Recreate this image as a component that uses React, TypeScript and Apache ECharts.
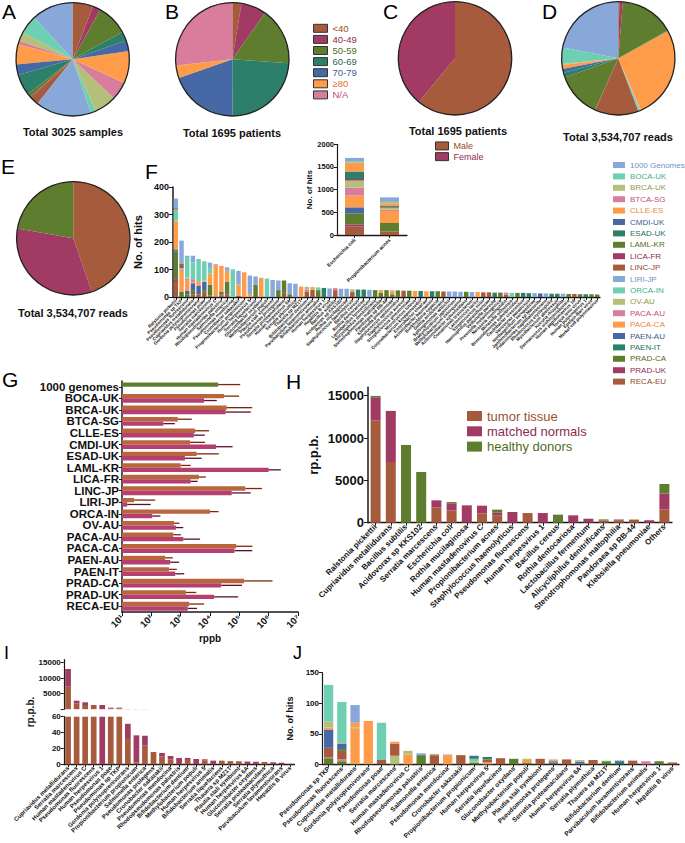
import React, { useEffect, useRef } from "react";
import * as echarts from "echarts";

const FONT = '"Liberation Sans", Arial, Helvetica, sans-serif';
const INK = "#1a1a1a";

// ---------- projects ----------
const projects = ["1000 Genomes","BOCA-UK","BRCA-UK","BTCA-SG","CLLE-ES","CMDI-UK","ESAD-UK","LAML-KR","LICA-FR","LINC-JP","LIRI-JP","ORCA-IN","OV-AU","PACA-AU","PACA-CA","PAEN-AU","PAEN-IT","PRAD-CA","PRAD-UK","RECA-EU"];
const projectColors = ["#87a8d8","#6fcfb2","#b4bf7a","#d97d9d","#ff9c4a","#4669a5","#2c806a","#5e7d2e","#a13b63","#a65b3d","#87a8d8","#6fcfb2","#b4bf7a","#d97d9d","#ff9c4a","#4669a5","#2c806a","#5e7d2e","#a13b63","#a65b3d"];
const projectTextColors = ["#6f8fc4","#3fae8c","#8d9a4c","#c24f7b","#ef8442","#3c5b93","#266f5c","#4f6c25","#8d2c52","#8e4a2e","#6f8fc4","#3fae8c","#8d9a4c","#c24f7b","#ef8442","#3c5b93","#266f5c","#4f6c25","#8d2c52","#8e4a2e"];

// ---------- A: samples per project ----------
const samplesPerProject = [360,160,76,30,175,91,182,30,9,76,480,45,191,157,278,91,79,272,67,176];
// ---------- B: age ----------
const ageGroups = ["<40","40-49","50-59","60-69","70-79","≥80","N/A"];
const agePatients = [44,122,276,405,334,61,453];
const ageColors = ["#a65b3d","#a13b63","#5e7d2e","#2c806a","#4669a5","#ff9c4a","#d97d9d"];
const ageTextColors = ["#a04a28","#8d2c52","#4f6c25","#1f6b55","#3c5b93","#e07030","#c04a70"];
// ---------- C: sex ----------
const sexGroups = ["Male","Female"];
const sexPatients = [1034,661];
const sexColors = ["#a65b3d","#a13b63"];
const sexTextColors = ["#9a4a2a","#8d2c52"];
// ---------- D: reads per project ----------
const readsPerProject = [784700,166100,7100,3500,38900,38900,49500,456000,3500,445400,3500,17700,3500,3500,943800,3500,3500,555000,35300,10600];
// ---------- E: reads per source ----------
const sourceGroups = ["tumor tissue","matched normals","healthy donors"];
const sourceReads = [1580000,1170000,784700];
const sourceColors = ["#a65b3d","#a13b63","#5e7d2e"];
const sourceTextColors = ["#9c4f30","#8d2c52","#4f6c25"];

// ---------- F: hits per species (stacked by project) ----------
const fSpecies = ["Ralstonia pickettii","Pseudomonas sp TKP","Pseudomonas fluorescens","Cupriavidus metallidurans","Gordonia polyisoprenivorans","Pseudomonas poae","Serratia marcescens","Human mastadenovirus C","Rhodopseudomonas palustris","Salmonella enterica","Pseudomonas mendocina","Cronobacter sakazakii","Propionibacterium propionicum","Human herpesvirus 5","Serratia liquefaciens","Gluconobacter oxydans","Methylobacterium populi","Plautia stali symbiont","Pseudomonas protegens","Serratia proteamaculans","Human herpesvirus 6A","Serratia plymuthica","Thauera sp MZ1T","Bifidobacterium dentium","Parvibaculum lavamentivorans","Bifidobacterium animalis","Human herpesvirus 1","Hepatitis B virus","Bacillus subtilis","Acidovorax sp KKS102","Rothia mucilaginosa","Staphylococcus haemolyticus","Bacillus cereus","Rothia dentocariosa","Lactobacillus fermentum","Alicycliphilus denitrificans","Stenotrophomonas maltophilia","Pandoraea sp RB-44","Klebsiella pneumoniae","Staphylococcus epidermidis","Staphylococcus aureus","Streptococcus pneumoniae","Micrococcus luteus","Corynebacterium kroppenstedtii","Enterobacter cloacae","Acinetobacter baumannii","Burkholderia cepacia","Delftia acidovorans","Sphingomonas wittichii","Bradyrhizobium japonicum","Methylobacterium extorquens","Achromobacter xylosoxidans","Comamonas testosteroni","Lactococcus lactis","Streptococcus mitis","Haemophilus parainfluenzae","Veillonella parvula","Prevotella melaninogenica","Neisseria meningitidis","Moraxella osloensis","Brevundimonas subvibrioides","Caulobacter crescentus","Variovorax paradoxus","Herbaspirillum seropedicae","Janthinobacterium sp Marseille","Polaromonas naphthalenivorans","Rhodococcus erythropolis","Mycobacterium abscessus","Kocuria rhizophila","Dermacoccus nishinomiyaensis","Human papillomavirus 16","Torque teno virus","Human polyomavirus 1","Epstein-Barr virus","Merkel cell polyomavirus"];
const fRECA = [55,0,0,10,10,15,5,0,5,10,0,5,0,0,0,0,0,0,0,15,0,0,0,20,26,
  0,0,0,25,0,0,18,0,0,0,0,0,0,0,0,23,0,0,0,0,0,0,20,0,0,
  0,0,0,0,17,17,0,0,8,0,0,0,0,0,0,0,0,0,0,0,11,0,0,0,0];
const fPRADUK = [10,0,0,0,0,0,0,0,5,0,0,0,0,0,0,0,0,0,0,0,0,0,0,0,0,
  0,0,0,0,0,0,0,0,0,0,0,0,0,0,0,0,0,0,0,0,0,0,0,0,0,
  0,0,0,0,0,0,0,0,0,0,0,0,0,0,0,0,0,0,0,0,0,0,0,0,0];
const fPRADCA = [100,20,10,15,0,10,40,2,10,45,0,0,0,0,45,0,0,0,25,45,10,0,0,0,0,
  25,0,0,0,0,0,0,0,0,0,25,15,25,10,24,0,23,0,0,0,0,21,0,0,0,
  0,19,0,0,0,0,0,16,0,0,15,0,0,0,0,0,0,0,0,11,0,10,0,10,9];
const fPAENIT = [0,0,0,0,0,0,0,0,0,0,0,0,0,0,0,0,0,0,0,0,0,0,0,0,0,
  0,33,0,0,0,0,0,27,27,0,0,0,0,0,0,0,0,0,22,0,21,0,0,0,0,
  0,0,0,0,0,0,16,0,0,0,0,15,14,0,0,0,12,12,0,0,0,0,10,0,0];
const fPAENAU = [8,0,12,25,30,30,0,0,0,0,0,0,0,0,0,0,0,0,0,0,0,0,0,0,0,
  0,0,0,0,0,0,0,0,0,0,0,0,0,0,0,0,0,0,0,0,0,0,0,0,0,
  0,0,0,0,0,0,0,0,0,0,0,0,0,0,13,0,0,0,0,0,0,0,0,0,0];
const fPACACA = [100,75,40,5,15,0,40,116,93,40,0,40,90,10,0,70,0,0,0,0,0,0,38,0,10,
  0,0,0,0,0,0,0,0,0,0,0,10,0,14,0,0,0,22,0,21,0,0,0,0,0,
  0,0,0,18,0,0,0,0,0,0,0,0,0,0,0,0,0,0,0,0,0,0,0,0,0];
const fPACAAU = [0,5,5,10,0,0,0,0,0,0,0,0,0,0,0,0,0,0,0,0,0,0,0,8,0,
  0,0,0,7,0,0,0,0,0,0,0,0,0,0,0,0,0,0,0,0,0,0,0,0,0,
  0,0,0,0,0,0,0,0,8,0,0,0,0,0,0,0,0,0,0,0,0,0,0,0,0];
const fOVAU = [5,0,3,0,0,5,0,0,0,0,0,0,0,0,0,0,0,0,0,0,0,0,0,9,0,
  0,0,0,0,0,0,10,0,0,0,0,0,0,0,0,0,0,0,0,0,0,0,0,0,0,
  0,0,0,0,0,0,0,0,0,0,0,0,0,0,0,0,0,0,0,0,0,0,0,0,0];
const fORCAIN = [40,5,75,60,83,70,20,0,0,0,101,0,0,0,0,0,67,0,0,0,0,0,0,0,0,
  10,0,0,0,0,0,0,0,0,0,0,0,0,0,0,0,0,0,0,0,0,0,0,0,0,
  0,0,0,0,0,0,0,0,0,15,0,0,0,0,0,0,0,0,0,0,0,0,0,0,0];
const fLINCJP = [5,15,0,0,0,0,0,0,0,0,0,0,0,0,0,0,0,0,0,0,0,0,0,0,0,
  0,0,0,0,0,0,0,0,0,0,0,0,0,0,0,0,0,0,0,0,0,0,0,0,0,
  0,0,0,0,0,0,0,0,0,0,0,0,0,0,0,0,0,0,0,0,0,0,0,0,0];
const f1000G = [35,85,5,25,0,0,20,2,0,13,0,50,0,68,30,0,0,62,35,0,40,48,0,0,0,
  0,0,31,0,30,30,0,0,0,26,0,0,0,0,0,0,0,0,0,0,0,0,0,20,20,
  19,0,18,0,0,0,0,0,0,0,0,0,0,14,0,13,0,0,12,0,0,0,0,0,0];

// ---------- F inset ----------
const insetSpecies = ["Escherichia coli","Propionibacterium acnes"];
const insetEcoli = [70,30,0,0,200,0,165,0,35,0,0,0,156,176,258,132,0,243,51,184];
const insetPacnes = [100,0,30,0,50,0,30,0,0,20,0,0,40,30,265,0,0,185,0,80];

// ---------- G: rppb per project ----------
const gRows = ["1000 genomes","BOCA-UK","BRCA-UK","BTCA-SG","CLLE-ES","CMDI-UK","ESAD-UK","LAML-KR","LICA-FR","LINC-JP","LIRI-JP","ORCA-IN","OV-AU","PACA-AU","PACA-CA","PAEN-AU","PAEN-IT","PRAD-CA","PRAD-UK","RECA-EU"];
const gTumor = [19000,30000,37000,800,3100,2100,3500,1000,4200,160000,26,10000,590,560,78000,295,400,145000,1500,1950];
const gTumorErr = [107000,98000,275000,2400,9300,6800,20000,2200,7200,590000,135,19500,910,1020,280000,540,740,1350000,3400,6300];
const gNormal = [null,6300,34000,257,2800,16000,1400,1000000,2200,55000,15,107,690,1230,68000,440,650,24000,13800,1740];
const gNormalErr = [null,17000,245000,630,6600,59000,5200,2600000,3800,245000,95,204,1230,4600,275000,890,1320,123000,91000,3600];
const gTickLabels = ["10¹","10²","10³","10⁴","10⁵","10⁶","10⁷"];

// ---------- H ----------
const hSpecies = ["Ralstonia pickettii","Cupriavidus metallidurans","Bacillus subtilis","Acidovorax sp KKS102","Serratia marcescens","Escherichia coli","Rothia mucilaginosa","Human mastadenovirus C","Propionibacterium acnes","Staphylococcus haemolyticus","Pseudomonas fluorescens","Human herpesvirus 1","Bacillus cereus","Rothia dentocariosa","Lactobacillus fermentum","Alicycliphilus denitrificans","Stenotrophomonas maltophilia","Pandoraea sp RB-44","Klebsiella pneumoniae","Others"];
const hTumor = [12100,7170,0,0,1810,1460,0,1100,830,0,1140,0,0,0,0,220,300,370,0,1580];
const hMatched = [2710,6030,0,0,830,830,2050,910,350,1260,0,1140,0,870,470,60,80,0,290,1850];
const hHealthy = [160,0,9180,5990,0,150,0,0,360,0,0,0,950,0,0,110,0,0,0,1140];

// ---------- I ----------
const iSpecies = ["Cupriavidus metallidurans","Serratia marcescens","Human mastadenovirus C","Pseudomonas fluorescens","Human herpesvirus 1","Pseudomonas poae","Pseudomonas sp TKP","Gordonia polyisoprenivorans","Propionibacterium propionicum","Salmonella enterica","Pseudomonas protegens","Cronobacter sakazakii","Pseudomonas mendocina","Rhodopseudomonas palustris","Bifidobacterium dentium","Methylobacterium populi","Human herpesvirus 5","Bifidobacterium animalis","Serratia liquefaciens","Thauera sp MZ1T","Plautia stali symbiont","Human herpesvirus 6A","Gluconobacter oxydans","Serratia proteamaculans","Serratia plymuthica","Parvibaculum lavamentivorans","Hepatitis B virus"];
const iTumor = [7260,1900,1350,1350,0,300,300,32,2.5,23.5,15.5,9.7,6.3,0,5.5,0,5,0,4.6,4,3.8,0,0,3,0,0,0.5];
const iNormal = [5710,840,870,0,1350,200,200,19,34,12.5,0,4.6,4.2,8,2.5,6.7,1.3,4.6,0,0,0,3.5,3.2,0,2.5,2,0];

// ---------- J ----------
const jSpecies = ["Pseudomonas sp TKP","Pseudomonas fluorescens","Cupriavidus metallidurans","Gordonia polyisoprenivorans","Pseudomonas poae","Serratia marcescens","Human mastadenovirus C","Rhodopseudomonas palustris","Salmonella enterica","Pseudomonas mendocina","Cronobacter sakazakii","Propionibacterium propionicum","Human herpesvirus 5","Serratia liquefaciens","Gluconobacter oxydans","Methylobacterium populi","Plautia stali symbiont","Pseudomonas protegens","Serratia proteamaculans","Human herpesvirus 6A","Serratia plymuthica","Thauera sp MZ1T","Bifidobacterium dentium","Parvibaculum lavamentivorans","Bifidobacterium animalis","Human herpesvirus 1","Hepatitis B virus"];
const jRECA = [0,0,0,0,7,0,0,0,0,0,15,0,0,10,0,0,9,0,8,0,7,0,0,6,0,0,3];
const jPRADUK = [0,0,0,0,0,0,0,0,0,0,0,0,0,0,0,0,0,0,0,1,0,0,0,0,0,0,0];
const jPRADCA = [10,5,1,1,0,0,0,15,0,0,0,3,0,0,9,2,0,0,0,0,0,5,0,0,0,5,0];
const jPAENIT = [0,0,0,0,0,0,0,0,0,0,0,0,0,0,0,0,0,0,0,0,0,0,4,0,0,0,0];
const jPAENAU = [0,0,0,0,0,0,0,0,0,0,0,0,0,0,0,0,0,3,0,3,0,0,0,0,0,0,0];
const jPACACA = [0,0,57,70,0,0,16,0,0,15,0,0,3,0,0,5,0,0,0,0,0,0,0,0,0,0,0];
const jPACAAU = [1,3,0,0,0,0,0,0,0,1,0,0,0,0,0,0,0,0,0,1,0,0,0,0,5,0,0];
const jOVAU = [0,0,2,0,0,14,0,0,0,0,0,2,0,0,0,2,0,0,0,2,0,0,0,0,0,0,0];
const jORCAIN = [0,0,0,0,61,0,0,0,0,0,0,4,0,0,0,0,0,0,0,0,0,1,0,0,0,0,0];
const jLINCJP = [16,14,0,0,0,20,0,0,15,0,0,0,5,0,0,0,0,2,0,0,0,0,0,0,0,0,0];
const jLAMLKR = [0,3,0,0,0,0,0,0,0,0,0,0,0,0,0,0,0,0,0,0,0,0,0,0,0,0,0];
const jESADUK = [0,0,0,0,0,0,0,0,0,0,0,3,4,0,0,0,0,0,0,0,0,0,0,0,0,0,0];
const jCMDIUK = [30,9,0,0,0,0,0,0,0,0,0,2,0,0,0,0,0,0,0,0,0,0,2,0,0,0,0];
const jCLLEES = [3,1,8,0,0,3,0,0,0,0,0,0,0,0,0,0,0,0,0,0,0,0,0,0,0,0,0];
const jBRCAUK = [10,0,0,0,0,0,6,0,2,0,0,0,0,0,0,0,0,3,0,0,0,0,0,0,0,0,0];
const jBOCAUK = [60,67,0,0,0,0,0,0,0,0,0,0,0,0,0,0,0,0,0,0,0,0,0,0,0,0,0];
const j1000G = [0,0,29,0,0,0,0,3,0,0,0,0,0,0,0,0,0,0,0,0,0,0,0,0,0,0,0];

// ---------- helpers ----------
const fByProject: Record<string, number[]> = {
  "RECA-EU": fRECA, "PRAD-UK": fPRADUK, "PRAD-CA": fPRADCA, "PAEN-IT": fPAENIT, "PAEN-AU": fPAENAU,
  "PACA-CA": fPACACA, "PACA-AU": fPACAAU, "OV-AU": fOVAU, "ORCA-IN": fORCAIN, "LINC-JP": fLINCJP, "1000 Genomes": f1000G,
};
const jByProject: Record<string, number[]> = {
  "RECA-EU": jRECA, "PRAD-UK": jPRADUK, "PRAD-CA": jPRADCA, "PAEN-IT": jPAENIT, "PAEN-AU": jPAENAU,
  "PACA-CA": jPACACA, "PACA-AU": jPACAAU, "OV-AU": jOVAU, "ORCA-IN": jORCAIN, "LINC-JP": jLINCJP,
  "LAML-KR": jLAMLKR, "ESAD-UK": jESADUK, "CMDI-UK": jCMDIUK, "CLLE-ES": jCLLEES, "BRCA-UK": jBRCAUK,
  "BOCA-UK": jBOCAUK, "1000 Genomes": j1000G,
};
const nz = (a: (number | null)[]) => a.map((v) => (v === 0 ? null : v));
const colorOf = (p: string) => projectColors[projects.indexOf(p)];
const stackOrder = [...projects].reverse();
const plain = (v: number) => String(v);

function buildOption() {
  const axisLine = (w = 1.3) => ({ show: true, lineStyle: { color: INK, width: w } });
  const tick = (len = 3, align = true) => ({ show: true, length: len, alignWithLabel: align, lineStyle: { color: INK, width: 1 } });
  const lab = (size: number, extra: any = {}) => ({ fontSize: size, fontWeight: "bold", color: "#111", fontFamily: FONT, ...extra });
  const noSplit = { show: false };

  const grids = [
    { left: 173, top: 187, width: 427, height: 110 }, // F main
    { left: 337, top: 144.3, width: 70, height: 90.7 }, // F inset
    { left: 122, top: 381, width: 176, height: 231 }, // G
    { left: 368, top: 387.2, width: 304, height: 135.5 }, // H
    { left: 63.8, top: 659.6, width: 230.6, height: 49.6 }, // I upper
    { left: 63.8, top: 716.7, width: 230.6, height: 47.6 }, // I lower
    { left: 322, top: 672.7, width: 357, height: 91.6 }, // J
  ].map((g) => ({ ...g, containLabel: false, outerBoundsMode: "none" }));

  const catX = (gi: number, data: string[], size: number, extra: any = {}) => ({
    type: "category", gridIndex: gi, data, axisLine: axisLine(), axisTick: tick(3),
    axisLabel: { interval: 0, rotate: 45, margin: 3, ...lab(size) }, splitLine: noSplit, ...extra,
  });

  const xAxis: any[] = [
    catX(0, fSpecies, 4.5),
    catX(1, insetSpecies, 5, { axisLabel: { interval: 0, rotate: 45, margin: 4, ...lab(5) } }),
    {
      type: "log", gridIndex: 2, min: 10, max: 10000000, logBase: 10, splitNumber: 6,
      axisLine: axisLine(1.5), axisTick: { show: true, length: 4, lineStyle: { color: INK } },
      axisLabel: { rotate: 45, margin: 4, formatter: (v: number) => gTickLabels[Math.round(Math.log10(v)) - 1] ?? "", ...lab(9.5) },
      splitLine: noSplit, name: "rppb", nameLocation: "middle", nameGap: 20, nameTextStyle: lab(10),
    },
    catX(3, hSpecies, 8),
    { type: "category", gridIndex: 4, data: iSpecies, axisLine: { show: false }, axisTick: { show: false }, axisLabel: { show: false }, splitLine: noSplit },
    catX(5, iSpecies, 6),
    catX(6, jSpecies, 6.5),
  ];

  const yAxis: any[] = [
    { type: "value", gridIndex: 0, min: 0, max: 400, interval: 100, axisLine: axisLine(1.5), axisTick: tick(4, false), axisLabel: { margin: 4, formatter: plain, ...lab(9) }, splitLine: noSplit,
      name: "No. of hits", nameLocation: "middle", nameRotate: 90, nameGap: 22, nameTextStyle: lab(11) },
    { type: "value", gridIndex: 1, min: 0, max: 2000, interval: 500, axisLine: axisLine(1.2), axisTick: tick(3, false), axisLabel: { margin: 3, formatter: plain, ...lab(7.5) }, splitLine: noSplit,
      name: "No. of hits", nameLocation: "middle", nameRotate: 90, nameGap: 21, nameTextStyle: lab(8) },
    { type: "category", gridIndex: 2, data: gRows, inverse: true, axisLine: axisLine(1.5), axisTick: tick(3), axisLabel: { interval: 0, margin: 3, ...lab(11.5) }, splitLine: noSplit },
    { type: "value", gridIndex: 3, min: 0, max: 16000, axisLine: axisLine(1.5), axisTick: { ...tick(4, false), customValues: [0, 5000, 10000, 15000] },
      axisLabel: { margin: 4, customValues: [0, 5000, 10000, 15000], formatter: plain, ...lab(13) }, splitLine: noSplit,
      name: "rp.p.b.", nameLocation: "middle", nameRotate: 90, nameGap: 48, nameTextStyle: lab(13) },
    { type: "value", gridIndex: 4, min: 0, max: 16000, axisLine: axisLine(1.2), axisTick: { ...tick(3, false), customValues: [0, 5000, 10000, 15000] },
      axisLabel: { margin: 3, customValues: [5000, 10000, 15000], formatter: plain, ...lab(8) }, splitLine: noSplit },
    { type: "value", gridIndex: 5, min: 0, max: 60, interval: 20, axisLine: axisLine(1.2), axisTick: tick(3, false), axisLabel: { margin: 3, formatter: plain, ...lab(8) }, splitLine: noSplit },
    { type: "value", gridIndex: 6, min: 0, max: 150, interval: 50, axisLine: axisLine(1.2), axisTick: tick(3, false), axisLabel: { margin: 3, formatter: plain, ...lab(8) }, splitLine: noSplit,
      name: "No. of hits", nameLocation: "middle", nameRotate: 90, nameGap: 22, nameTextStyle: lab(9) },
  ];

  const series: any[] = [];

  // pies
  const pie = (center: number[], names: string[], values: number[], colors: string[], clockwise: boolean) => {
    series.push({
      type: "pie", center, radius: 56.7, startAngle: 90, clockwise, silent: true, animation: false,
      label: { show: false }, labelLine: { show: false }, emphasis: { disabled: true },
      itemStyle: { borderWidth: 0 },
      data: names.map((n, i) => ({ name: n, value: values[i], itemStyle: { color: colors[i] } })),
    });
    series.push({
      type: "pie", center, radius: 56.7, silent: true, z: 5, label: { show: false }, labelLine: { show: false }, emphasis: { disabled: true },
      data: [{ name: "outline", value: 1, itemStyle: { color: "rgba(0,0,0,0)", borderColor: "#222", borderWidth: 1.3 } }],
    });
  };
  pie([72.7, 59.3], projects, samplesPerProject, projectColors, false);
  pie([232.3, 59.3], ageGroups, agePatients, ageColors, true);
  pie([455, 58.3], sexGroups, sexPatients, sexColors, true);
  pie([618.3, 58.3], projects, readsPerProject, projectColors, false);
  pie([73.3, 238.3], sourceGroups, sourceReads, sourceColors, true);

  // F main
  stackOrder.forEach((p) => {
    const arr = fByProject[p];
    if (!arr) return;
    series.push({ type: "bar", name: p, stack: "f", xAxisIndex: 0, yAxisIndex: 0, barWidth: "78%", data: nz(arr), itemStyle: { color: colorOf(p) } });
  });
  // F inset
  stackOrder.forEach((p) => {
    const k = projects.indexOf(p);
    if (!insetEcoli[k] && !insetPacnes[k]) return;
    series.push({ type: "bar", name: p, stack: "fi", xAxisIndex: 1, yAxisIndex: 1, barWidth: 19, data: nz([insetEcoli[k], insetPacnes[k]]), itemStyle: { color: colorOf(p) } });
  });

  // G
  series.push({ type: "bar", name: "tumor", xAxisIndex: 2, yAxisIndex: 2, barWidth: 4.4, barGap: "0%",
    data: gTumor.map((v, i) => (i === 0 ? { value: v, itemStyle: { color: "#5e7d2e" } } : v)), itemStyle: { color: "#b9663f" } });
  series.push({ type: "bar", name: "normal", xAxisIndex: 2, yAxisIndex: 2, barWidth: 4.4, barGap: "0%", data: gNormal, itemStyle: { color: "#b43f70" } });
  const gErr: number[][] = [];
  gRows.forEach((_, i) => {
    gErr.push([gTumor[i], i, gTumorErr[i], -1]);
    if (gNormal[i] != null) gErr.push([gNormal[i] as number, i, gNormalErr[i] as number, 1]);
  });
  series.push({
    type: "custom", xAxisIndex: 2, yAxisIndex: 2, data: gErr, silent: true, z: 4, encode: { x: [0, 2], y: 1 },
    renderItem: (_p: any, api: any) => {
      const row = api.value(1);
      const a = api.coord([api.value(0), row]);
      const b = api.coord([api.value(2), row]);
      const s = api.value(3);
      const dy = s * 2.2;
      return { type: "line", shape: { x1: a[0], y1: a[1] + dy, x2: b[0], y2: b[1] + dy }, style: { stroke: s < 0 ? "#7a2a0a" : "#5a1030", lineWidth: 1.3 } };
    },
  });

  // H
  [hTumor, hMatched, hHealthy].forEach((arr, k) => {
    series.push({ type: "bar", name: sourceGroups[k], stack: "h", xAxisIndex: 3, yAxisIndex: 3, barWidth: 10, data: nz(arr), itemStyle: { color: sourceColors[k] } });
  });

  // I (broken axis)
  [4, 5].forEach((ai) => {
    [iTumor, iNormal].forEach((arr, k) => {
      series.push({ type: "bar", name: sourceGroups[k], stack: "i" + ai, xAxisIndex: ai, yAxisIndex: ai, barWidth: 5.7, clip: true, data: nz(arr), itemStyle: { color: sourceColors[k] } });
    });
  });

  // J
  stackOrder.forEach((p) => {
    const arr = jByProject[p];
    if (!arr) return;
    series.push({ type: "bar", name: p, stack: "j", xAxisIndex: 6, yAxisIndex: 6, barWidth: 9.3, data: nz(arr), itemStyle: { color: colorOf(p) } });
  });

  const legendBase = { orient: "vertical", icon: "rect", selectedMode: false, padding: 0 };
  const legend: any[] = [
    { ...legendBase, left: 313, top: 22.8, itemWidth: 14, itemHeight: 8, itemGap: 0.1,
      itemStyle: { borderColor: "#333", borderWidth: 1 },
      textStyle: { fontSize: 9.5, lineHeight: 11, fontFamily: FONT },
      data: ageGroups.map((n, i) => ({ name: n, textStyle: { color: ageTextColors[i] } })) },
    { ...legendBase, left: 435, top: 140.6, itemWidth: 13, itemHeight: 8, itemGap: 0,
      itemStyle: { borderColor: "#333", borderWidth: 1 },
      textStyle: { fontSize: 9, lineHeight: 10.7, fontFamily: FONT },
      data: sexGroups.map((n, i) => ({ name: n, textStyle: { color: sexTextColors[i] } })) },
    { ...legendBase, left: 613, top: 160, itemWidth: 12, itemHeight: 6, itemGap: 1.4,
      textStyle: { fontSize: 8, lineHeight: 10, fontFamily: FONT },
      data: projects.map((n, i) => ({ name: n, textStyle: { color: projectTextColors[i] } })) },
    { ...legendBase, left: 467, top: 409, itemWidth: 15, itemHeight: 10, itemGap: 1.3,
      textStyle: { fontSize: 13, lineHeight: 14, fontFamily: FONT },
      data: sourceGroups.map((n, i) => ({ name: n, textStyle: { color: sourceTextColors[i] } })) },
  ];

  const letters: [string, number, number, number][] = [
    ["A", 2, 1, 21], ["B", 165, 1, 21], ["C", 383, 1, 21], ["D", 542, 1, 21], ["E", 1, 156, 21],
    ["F", 145, 161, 21], ["G", 2, 369, 21], ["H", 286, 371, 21], ["I", 4, 644, 18], ["J", 293, 644, 18],
  ];
  const pieTitles: [string, number, number][] = [
    ["Total 3025 samples", 73, 131.7], ["Total 1695 patients", 232, 133.3], ["Total 1695 patients", 458, 130.7],
    ["Total 3,534,707 reads", 618, 137.3], ["Total 3,534,707 reads", 73, 312.7],
  ];
  const graphic: any[] = [
    ...letters.map(([t, x, y, s]) => ({ type: "text", x, y, silent: true,
      style: { text: t, fontSize: s, fontFamily: FONT, fill: "#000", textAlign: "left", textVerticalAlign: "top" } })),
    ...pieTitles.map(([t, x, y]) => ({ type: "text", x, y, silent: true,
      style: { text: t, fontSize: 11, fontWeight: "bold", fontFamily: FONT, fill: "#111", textAlign: "center", textVerticalAlign: "middle" } })),
    { type: "text", x: 30.5, y: 712, rotation: Math.PI / 2, silent: true,
      style: { text: "rp.p.b.", fontSize: 10, fontWeight: "bold", fontFamily: FONT, fill: "#111", textAlign: "center", textVerticalAlign: "middle" } },
  ];

  return {
    animation: false,
    backgroundColor: "#ffffff",
    textStyle: { fontFamily: FONT },
    grid: grids,
    xAxis, yAxis, series, legend, graphic,
  };
}

export default function App() {
  const ref = useRef<HTMLDivElement>(null);
  useEffect(() => {
    const chart = echarts.init(ref.current!, null, { renderer: "svg" });
    chart.setOption(buildOption() as any);
    return () => chart.dispose();
  }, []);
  return <div ref={ref} style={{ position: "absolute", left: 0, top: 0, width: 685, height: 843, background: "#fff" }} />;
}
